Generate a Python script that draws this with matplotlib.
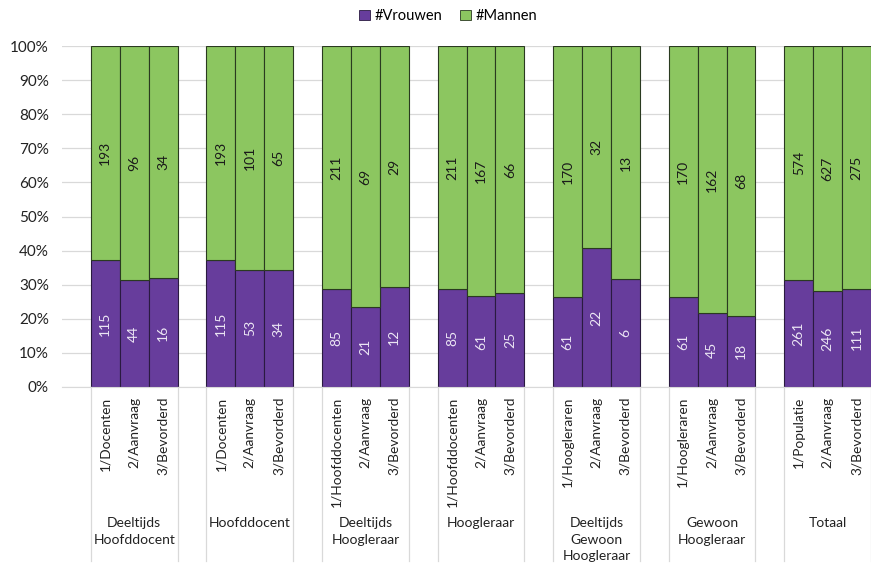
import matplotlib
matplotlib.use("Agg")
import matplotlib.pyplot as plt
from matplotlib.patches import Patch
import numpy as np

plt.rcParams['font.family'] = ['Lato', 'DejaVu Sans']

groups = ["Deeltijds\nHoofddocent", "Hoofddocent", "Deeltijds\nHoogleraar", "Hoogleraar",
          "Deeltijds\nGewoon\nHoogleraar", "Gewoon\nHoogleraar", "Totaal"]
sub_labels = [
    ["1/Docenten", "2/Aanvraag", "3/Bevorderd"],
    ["1/Docenten", "2/Aanvraag", "3/Bevorderd"],
    ["1/Hoofddocenten", "2/Aanvraag", "3/Bevorderd"],
    ["1/Hoofddocenten", "2/Aanvraag", "3/Bevorderd"],
    ["1/Hoogleraren", "2/Aanvraag", "3/Bevorderd"],
    ["1/Hoogleraren", "2/Aanvraag", "3/Bevorderd"],
    ["1/Populatie", "2/Aanvraag", "3/Bevorderd"],
]
vrouwen = [[115, 44, 16], [115, 53, 34], [85, 21, 12], [85, 61, 25],
           [61, 22, 6], [61, 45, 18], [261, 246, 111]]
mannen = [[193, 96, 34], [193, 101, 65], [211, 69, 29], [211, 167, 66],
          [170, 32, 13], [170, 162, 68], [574, 627, 275]]

PURPLE = "#673d9c"
GREEN = "#8cc660"

fig = plt.figure(figsize=(8.71, 5.65), dpi=100)
ax = fig.add_axes([62 / 871, 178 / 565, 809 / 871, 341 / 565])

ticks = np.arange(0, 1.01, 0.1)
ax.set_ylim(0, 1)
ax.set_yticks(ticks)
ax.set_yticklabels([f"{int(round(t * 100))}%" for t in ticks], fontsize=11, color="#222222")
ax.yaxis.grid(True, color="#d9d9d9", linewidth=0.9)
ax.set_axisbelow(True)
ax.tick_params(axis="y", length=0, pad=9.5)
ax.tick_params(axis="x", length=0, labelbottom=False)
for s in ["top", "right", "left"]:
    ax.spines[s].set_visible(False)
ax.spines["bottom"].set_color("#d9d9d9")

for g, (v_vals, m_vals) in enumerate(zip(vrouwen, mannen)):
    xs = np.array([4 * g + 1 + i for i in range(3)], dtype=float)
    tot = np.array(v_vals) + np.array(m_vals)
    vf = np.array(v_vals) / tot
    mf = np.array(m_vals) / tot
    ax.bar(xs, vf, width=1.0, align="edge", color=PURPLE, edgecolor="#2a1a40", linewidth=0.8)
    ax.bar(xs, mf, bottom=vf, width=1.0, align="edge", color=GREEN, edgecolor="#2a3a20", linewidth=0.8)
    for i in range(3):
        ax.text(xs[i] + 0.5, vf[i] / 2, str(v_vals[i]), rotation=90, ha="center", va="center",
                color="#ece6f4", fontsize=10)
        ax.text(xs[i] + 0.5, vf[i] + mf[i] / 2, str(m_vals[i]), rotation=90, ha="center", va="center",
                color="#1a1a1a", fontsize=10)
        ax.text(xs[i] + 0.5, -0.028, sub_labels[g][i], rotation=90, ha="center", va="top",
                fontsize=9.9, color="#222222", transform=ax.get_xaxis_transform())
    ax.text(xs[1] + 0.5, -0.382, groups[g], ha="center", va="top", fontsize=10,
            color="#222222", linespacing=1.45, transform=ax.get_xaxis_transform())
    for xe in (xs[0], xs[-1] + 1.0):
        ax.plot([xe, xe], [0, -0.51], color="#d9d9d9", linewidth=0.9, clip_on=False,
                transform=ax.get_xaxis_transform())

ax.set_xlim(0, 4 * len(groups))

handles = [Patch(facecolor=PURPLE, edgecolor="#2a1a40", linewidth=0.6, label="#Vrouwen"),
           Patch(facecolor=GREEN, edgecolor="#2a3a20", linewidth=0.6, label="#Mannen")]
fig.legend(handles=handles, loc="center", bbox_to_anchor=(448 / 871, 1 - 16 / 565), ncol=2,
           frameon=False, fontsize=10.5, handlelength=0.75, handleheight=0.75, handletextpad=0.3,
           columnspacing=1.2)

fig.savefig("out.png", dpi=100)
